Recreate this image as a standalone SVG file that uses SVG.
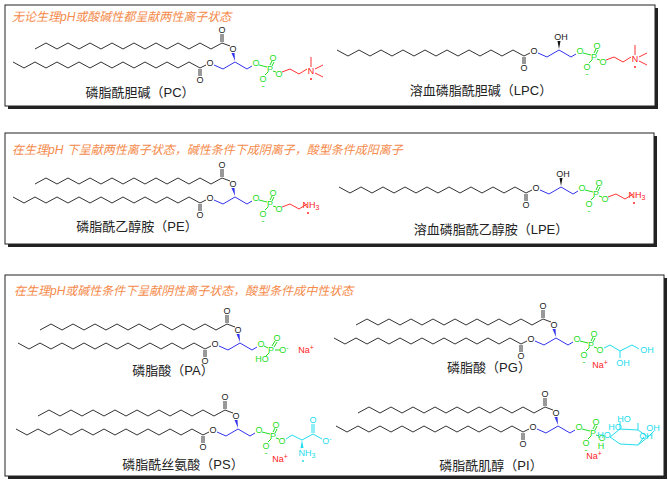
<svg xmlns="http://www.w3.org/2000/svg" xmlns:xlink="http://www.w3.org/1999/xlink" width="668" height="480" viewBox="0 0 668 480">
<style>
.box{fill:#fff;stroke:#222;stroke-width:1}
.sh{fill:#222}
.hd{font-family:"Liberation Sans","Noto Sans CJK SC",sans-serif;font-size:12px;font-style:italic;fill:#f58a4a}
.lb{font-family:"Liberation Sans","Noto Sans CJK SC",sans-serif;font-size:13px;fill:#222;text-anchor:middle}
.a{font-family:"Liberation Sans",sans-serif;font-size:9px;text-anchor:middle;dominant-baseline:central}
.k{fill:#222}.g{fill:#22dd22}.r{fill:#ff2222}.c{fill:#22ddee}
.ch{fill:none;stroke:#333;stroke-width:1}
.bl{fill:none;stroke:#3333ee;stroke-width:1}
.gl{fill:none;stroke:#22dd22;stroke-width:1}
.rl{fill:none;stroke:#ff3333;stroke-width:1}
.cl{fill:none;stroke:#22ddee;stroke-width:1}
</style>
<defs>
<g id="lower">
<polyline class="ch" points="-35,7 -46,1 -57,7 -68,1 -79,7 -90,1 -101,7 -112,1 -123,7 -134,1 -145,7 -156,1 -167,7 -178,1 -189,7 -200,1 -211,7 -222,1"/>
<line class="ch" x1="-35" y1="7" x2="-29" y2="4"/>
<text class="a k" x="-25" y="2">O</text>
<polyline class="bl" points="-21,4 -12,8 0,1 12,8 17,5"/>
<line class="ch" x1="-36" y1="8" x2="-36" y2="15"/><line class="ch" x1="-34" y1="8" x2="-34" y2="15"/>
<text class="a k" x="-35" y="19">O</text>
</g>
<g id="upper">
<polygon fill="#3333ee" points="0,0 -3.5,-8 -0.5,-8"/>
<text class="a k" x="-2" y="-12">O</text>
<line class="ch" x1="-5" y1="-15" x2="-13" y2="-18"/>
<line class="ch" x1="-14" y1="-19" x2="-14" y2="-27"/><line class="ch" x1="-12" y1="-19" x2="-12" y2="-27"/>
<text class="a k" x="-13" y="-31">O</text>
<polyline class="ch" points="-13,-18 -24,-12 -35,-18 -46,-12 -57,-18 -68,-12 -79,-18 -90,-12 -101,-18 -112,-12 -123,-18 -134,-12 -145,-18 -156,-12 -167,-18 -178,-12 -189,-18 -200,-12"/>
</g>
<g id="oh">
<polygon fill="#111" points="0,0 -1.5,-8 1.5,-8"/>
<text class="a k" x="2" y="-12">OH</text>
</g>
<g id="phos">
<text class="a g" x="21" y="2">O</text>
<line class="gl" x1="24" y1="4" x2="32" y2="6"/>
<text class="a g" x="35" y="8">P</text>
<line class="gl" x1="35" y1="4" x2="37" y2="0"/><line class="gl" x1="37" y1="5" x2="39" y2="1"/>
<text class="a g" x="38" y="-3">O</text>
<line class="gl" x1="33" y1="11" x2="30" y2="14"/>
<text class="a g" x="28" y="18">O</text>
<text class="a g" x="28" y="25">-</text>
<line class="gl" x1="38" y1="10" x2="41" y2="11"/>
<text class="a g" x="44" y="13">O</text>
</g>
<g id="chol">
<polyline class="rl" points="47,11 55,8 64,13 72,8"/>
<text class="a r" x="76" y="10">N</text>
<line class="rl" x1="76" y1="6" x2="76" y2="-4"/>
<line class="rl" x1="80" y1="8" x2="88" y2="4"/>
<line class="rl" x1="80" y1="12" x2="88" y2="16"/>
<circle cx="76" cy="18" r="1" fill="#ff2222"/>
</g>
<g id="etam">
<polyline class="rl" points="47,11 55,8 64,13 72,8"/>
<text class="a r" x="76" y="9">NH<tspan dy="2" font-size="7">3</tspan></text>
<circle cx="73" cy="17" r="1" fill="#ff2222"/>
</g>
</defs>

<g id="panel1">
<rect class="sh" x="8" y="8" width="650" height="101"/>
<rect class="box" x="5" y="5" width="650" height="101"/>
<text class="hd" x="12" y="21">无论生理pH或酸碱性都呈献两性离子状态</text>
</g>
<g id="panel2">
<rect class="sh" x="8" y="136" width="649" height="111"/>
<rect class="box" x="5" y="133" width="649" height="111"/>
<text class="hd" x="12" y="154">在生理pH 下呈献两性离子状态，碱性条件下成阴离子，酸型条件成阳离子</text>
</g>
<g id="panel3">
<rect class="sh" x="8" y="278" width="659" height="201"/>
<rect class="box" x="5" y="275" width="659" height="201"/>
<text class="hd" x="14" y="295">在生理pH或碱性条件下呈献阴性离子状态，酸型条件成中性状态</text>
</g>

<g id="connectors"></g>

<g id="PC" transform="translate(235,61)">
<use href="#lower"/><use href="#upper"/><use href="#phos"/><use href="#chol"/>
<text class="lb" x="-95" y="36">磷脂酰胆碱（PC）</text>
</g>
<g id="LPC" transform="translate(559,49)">
<use href="#lower"/><use href="#oh"/><use href="#phos"/><use href="#chol"/>
<text class="lb" x="-78" y="46">溶血磷脂酰胆碱（LPC）</text>
</g>
<g id="PE" transform="translate(235,196)">
<use href="#lower"/><use href="#upper"/><use href="#phos"/><use href="#etam"/>
<text class="lb" x="-98" y="35">磷脂酰乙醇胺（PE）</text>
</g>
<g id="LPE" transform="translate(561,186)">
<use href="#lower"/><use href="#oh"/><use href="#phos"/><use href="#etam"/>
<text class="lb" x="-70" y="48">溶血磷脂酰乙醇胺（LPE）</text>
</g>
<g id="PA" transform="translate(240,342)">
<use href="#lower"/><use href="#upper"/>
<text class="a g" x="21" y="2">O</text>
<line class="gl" x1="24" y1="4" x2="28" y2="6"/>
<text class="a g" x="31" y="8">P</text>
<line class="gl" x1="32" y1="4" x2="35" y2="-1"/><line class="gl" x1="34" y1="5" x2="37" y2="0"/>
<text class="a g" x="37" y="-4">O</text>
<line class="gl" x1="35" y1="8" x2="40" y2="8"/>
<text class="a g" x="44" y="8">O<tspan dy="-3" font-size="7">-</tspan></text>
<line class="gl" x1="29" y1="11" x2="26" y2="14"/>
<text class="a g" x="22" y="17">HO</text>
<text class="a r" x="66" y="8">Na<tspan dy="-3" font-size="7">+</tspan></text>
<text class="lb" x="-67" y="33">磷脂酸（PA）</text>
</g>
<g id="PG" transform="translate(556,337)">
<use href="#lower"/><use href="#upper"/><use href="#phos"/>
<polyline class="cl" points="48,11 54,8 64,14 76,8 83,12"/>
<line class="cl" x1="64" y1="14" x2="64" y2="21"/>
<text class="a c" x="91" y="13">OH</text>
<text class="a c" x="67" y="26">OH</text>
<text class="a r" x="44" y="28">Na<tspan dy="-3" font-size="7">+</tspan></text>
<text class="lb" x="-67" y="35">磷脂酸（PG）</text>
</g>
<g id="PS" transform="translate(238,428)">
<use href="#lower"/><use href="#upper"/><use href="#phos"/>
<polyline class="cl" points="48,11 54,7 64,12 75,6 84,11"/>
<line class="cl" x1="74" y1="5" x2="74" y2="-4"/><line class="cl" x1="76" y1="5" x2="76" y2="-4"/>
<text class="a c" x="75" y="-8">O</text>
<text class="a c" x="89" y="13">O<tspan dy="-3" font-size="7">-</tspan></text>
<polygon fill="#22ddee" points="64,12 62.5,20 65.5,20"/>
<text class="a c" x="69" y="25">NH<tspan dy="2" font-size="7">3</tspan></text>
<circle cx="65" cy="33" r="1" fill="#22ddee"/>
<text class="a r" x="42" y="31">Na<tspan dy="-3" font-size="7">+</tspan></text>
<text class="lb" x="-55" y="41">磷脂酰丝氨酸（PS）</text>
</g>
<g id="PI" transform="translate(558,425)">
<use href="#lower"/><use href="#upper"/><use href="#phos"/>
<polygon class="cl" points="52,12 62,4 80,5 90,12 80,20 62,19"/>
<line class="cl" x1="62" y1="4" x2="62" y2="-4"/>
<line class="cl" x1="80" y1="5" x2="80" y2="-2"/>
<line class="cl" x1="90" y1="12" x2="96" y2="6"/>
<line class="cl" x1="80" y1="20" x2="86" y2="12"/>
<text class="a c" x="66" y="-6">HO</text>
<text class="a c" x="57" y="2">HO</text>
<text class="a c" x="95" y="3">OH</text>
<text class="a c" x="88" y="11">OH</text>
<text class="a c" x="46" y="10">HO</text>
<text class="a g" x="43" y="21">H</text>
<text class="a r" x="36" y="31">Na<tspan dy="-3" font-size="7">+</tspan></text>
<text class="lb" x="-67" y="45">磷脂酰肌醇（PI）</text>
</g>
</svg>
